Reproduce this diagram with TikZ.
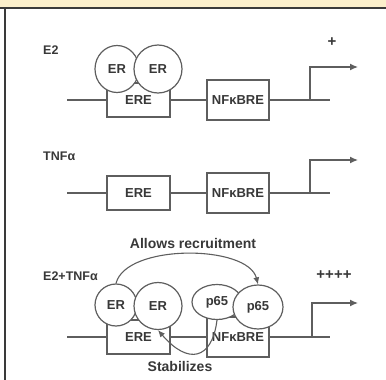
\documentclass[tikz,border=0pt]{standalone}
\usepackage{fontspec}
\setmainfont{Liberation Sans}
\usepackage{xcolor}
\usetikzlibrary{arrows.meta,positioning,shapes.geometric}
\definecolor{Band}{HTML}{FBEFCB}
\definecolor{Frame}{HTML}{3A3A3A}
\definecolor{Wire}{HTML}{5E5E5E}
\definecolor{Ink}{HTML}{383838}
\tikzset{
  site/.style={draw=Wire,fill=white,line width=1.2pt,minimum width=63pt,minimum height=34pt,inner sep=0pt,align=center,font=\bfseries\fontsize{13}{14}\selectfont,text=Ink},
  kbsite/.style={site,minimum width=62pt,minimum height=40pt},
  factor/.style={draw=Wire,fill=white,ellipse,line width=1.2pt,inner sep=0pt,font=\bfseries\fontsize{13}{14}\selectfont,text=Ink},
  dna/.style={draw=Wire,line width=1.3pt},
  tss/.style={dna,-{Latex[length=8pt,width=7pt]}},
  effect/.style={draw=Wire,line width=1.1pt,-{Latex[length=7pt,width=6pt]}},
  tag/.style={font=\bfseries\fontsize{12.5}{14}\selectfont,text=Ink,inner sep=0pt},
  note/.style={tag,font=\bfseries\fontsize{14}{16}\selectfont},
  gain/.style={tag,font=\bfseries\fontsize{15}{16}\selectfont}
}
\begin{document}
\begin{tikzpicture}[x=1pt,y=-1pt]
  \useasboundingbox (0,0) rectangle (386,380);
  \fill[Band] (0,0) rectangle (386,7.5);
  \draw[Frame,line width=1.5pt] (0,8) -- (386,8);
  \draw[Frame,line width=2pt] (5,8) -- (5,380);
  % E2 alone
  \node[tag,anchor=west] (lblA) at (43,50) {E2};
  \node[gain] (gainA) at (332,42) {+};
  \node[site] (ereA) at (138.5,100) {\raisebox{-3pt}{ERE}};
  \node[kbsite] (nfkbA) at (238,100) {NFκBRE};
  \coordinate (startA) at (67,100);
  \coordinate (endA) at (330,100);
  \coordinate (tssA) at (310,100);
  \coordinate (goA) at (358,67);
  \draw[dna] (startA) -- (ereA) (ereA) -- (nfkbA) (nfkbA) -- (endA);
  \draw[tss] (tssA) |- (goA);
  \node[factor,minimum width=44pt,minimum height=47pt] (erA1) at (117,69) {ER};
  \node[factor,minimum width=48pt,minimum height=48pt] (erA2) at (158,69) {ER};
  % TNFa alone
  \node[tag,anchor=west] (lblB) at (43,156) {TNFα};
  \node[site] (ereB) at (138.5,193) {ERE};
  \node[kbsite] (nfkbB) at (238,193) {NFκBRE};
  \coordinate (startB) at (67,193);
  \coordinate (endB) at (330,193);
  \coordinate (tssB) at (310,193);
  \coordinate (goB) at (358,160);
  \draw[dna] (startB) -- (ereB) (ereB) -- (nfkbB) (nfkbB) -- (endB);
  \draw[tss] (tssB) |- (goB);
  % E2 + TNFa
  \node[tag,anchor=west] (lblC) at (43,276) {E2+TNFα};
  \node[gain] (gainC) at (334,275) {++++};
  \node[site] (ereC) at (138.5,337) {\raisebox{-3pt}{ERE}};
  \node[kbsite] (nfkbC) at (238,337) {NFκBRE};
  \coordinate (startC) at (67,337);
  \coordinate (endC) at (330,337);
  \coordinate (tssC) at (312,337);
  \coordinate (goC) at (358,303);
  \draw[dna] (startC) -- (ereC) (ereC) -- (nfkbC) (nfkbC) -- (endC);
  \draw[tss] (tssC) |- (goC);
  \node[factor,minimum width=42pt,minimum height=42pt] (erC1) at (116,305) {ER};
  \node[factor,minimum width=48pt,minimum height=47pt] (erC2) at (158,306) {ER};
  \node[factor,minimum width=50pt,minimum height=35pt] (pC1) at (217,302) {p65};
  \node[factor,minimum width=50pt,minimum height=44pt] (pC2) at (258,307) {p65};
  \draw[effect] (erC1.north) .. controls +(10,-40) and +(-10,-40) .. (pC2.north);
  \node[note] (lblRecruit) at (193,243) {Allows recruitment};
  \draw[effect] (pC1.south) .. controls +(-5,40) and +(30,35) .. (erC2.south);
  \node[note] (lblStable) at (180,366) {Stabilizes};
\end{tikzpicture}
\end{document}
